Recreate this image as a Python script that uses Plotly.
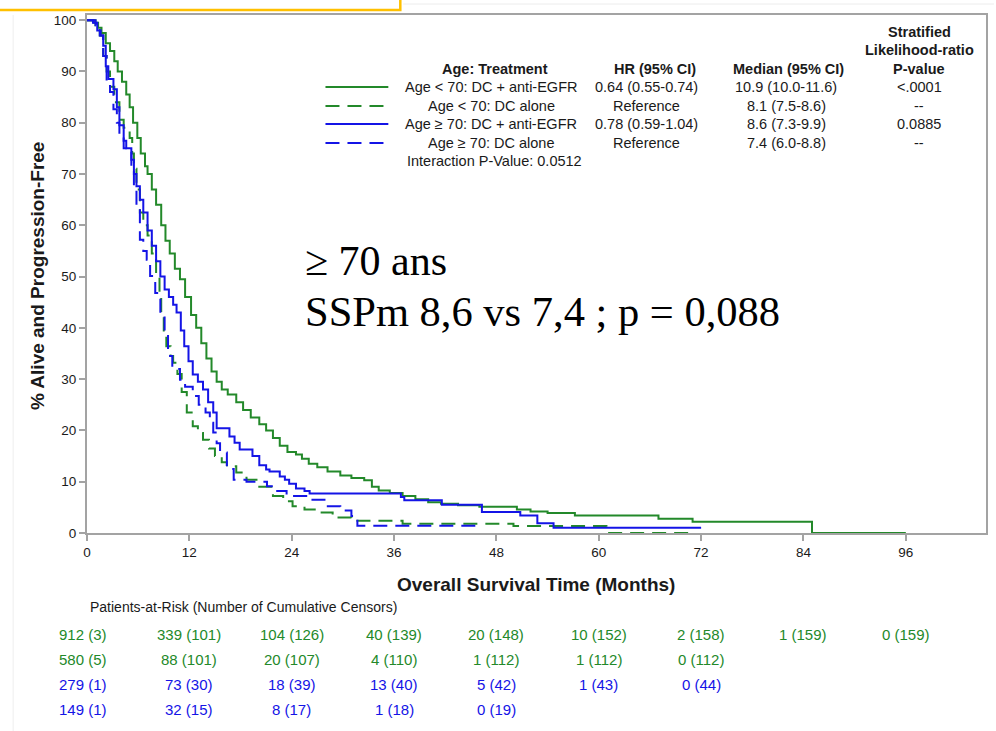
import plotly.graph_objects as go

# Kaplan-Meier step curves (months, % alive and progression-free)
months_lt70_egfr = [0, 0.8, 1.3, 1.7, 2.2, 2.7, 3.2, 3.6, 4.1, 4.6, 5.0, 5.4, 5.9, 6.3, 6.8, 7.1,
                    7.6, 8.1, 8.7, 9.2, 9.7, 10.3, 10.9, 11.5, 12.2, 12.8, 13.4, 14.0, 14.6, 15.2,
                    15.8, 16.5, 17.5, 18.3, 19.2, 20.2, 21.0, 21.8, 22.6, 23.5, 24.5, 25.2, 26.0,
                    27.0, 28.2, 29.7, 31.0, 32.5, 33.4, 34.2, 35.5, 37.0, 38.5, 40.0, 41.5, 43.5,
                    46.0, 50.4, 52.0, 54.0, 57.2, 67.0, 71.0, 85.0, 96.0]
surv_lt70_egfr = [100, 99.5, 98.5, 97.5, 95.5, 94, 92, 90, 88, 85.5, 83, 80, 77, 74, 71.5, 70,
                  67, 64, 60, 57, 54.5, 51.5, 49.5, 46, 42.5, 40, 37, 34, 31.5, 29.5,
                  28, 27, 25.5, 24, 22.5, 21.2, 20, 18.5, 17, 15.8, 15.3, 14.5, 13.5,
                  12.8, 12, 11.2, 10.7, 10.3, 9.0, 8.3, 7.8, 7.2, 6.6, 6.0, 5.7, 5.4,
                  5.1, 4.6, 4.2, 3.9, 3.4, 2.8, 2.2, 0, 0]

months_lt70_dc = [0, 1.0, 1.5, 1.9, 2.3, 2.7, 3.2, 3.8, 4.3, 5.0, 5.3, 5.5, 5.8, 6.2, 6.6, 7.1,
                  7.6, 8.1, 8.5, 8.7, 9.0, 9.3, 9.8, 10.1, 10.6, 11.1, 11.7, 12.4, 13.0, 13.6,
                  14.3, 15.0, 15.8, 16.4, 17.5, 18.7, 20.0, 21.8, 23.0, 24.1, 25.5, 27.3, 28.8,
                  31.0, 37.0, 50.0, 60.9, 71.0]
surv_lt70_dc = [100, 99, 97, 93, 90, 87, 84, 80.6, 79, 77, 74, 71, 67, 62.5, 60, 58,
                54.5, 50.5, 47, 43, 39.5, 36.4, 34.5, 33.2, 31, 27.5, 23.5, 20.8, 19.5, 18.2,
                16.5, 15, 13.8, 13, 11.8, 10.4, 9.0, 7.2, 6.2, 5.2, 4.6, 4.0, 3.0,
                2.4, 1.8, 1.35, 0, 0]

months_ge70_egfr = [0, 0.7, 1.2, 1.6, 1.9, 2.2, 2.5, 3.1, 3.5, 3.8, 4.3, 4.6, 5.2, 5.5, 5.8, 6.2,
                    6.6, 7.1, 7.6, 8.1, 8.6, 9.1, 9.6, 10.1, 10.5, 11.0, 11.4, 11.9, 12.4, 13.0,
                    13.6, 14.2, 14.8, 15.2, 16.7, 17.3, 17.9, 19.4, 20.2, 21.0, 21.4, 22.6, 23.2,
                    23.7, 24.5, 25.5, 26.1, 36.8, 37.2, 41.6, 46.3, 50.8, 52.8, 54.7, 72.0]
surv_ge70_egfr = [100, 99.5, 98, 97, 95, 91, 88.5, 86.5, 83, 79.5, 76.5, 75, 72.8, 70, 67.6, 65,
                  62.5, 59, 56, 53, 50, 47.5, 46, 44.5, 43, 39.5, 36.4, 33.5, 30.9, 29.5,
                  28, 25.5, 23.5, 20.4, 18.8, 17.6, 16.3, 15, 13.2, 12.4, 12, 11, 10.4,
                  9.6, 8.7, 8.2, 7.7, 7.0, 6.4, 5.5, 4.1, 3.4, 1.9, 1.0, 1.0]

months_ge70_dc = [0, 1.0, 1.5, 1.9, 2.3, 2.7, 3.1, 3.5, 3.8, 4.3, 5.2, 5.5, 5.8, 6.2, 6.6, 7.0,
                  7.4, 8.0, 8.6, 9.1, 9.5, 10.0, 10.9, 11.5, 12.4, 13.1, 13.9, 14.4, 14.8, 15.2,
                  15.6, 16.4, 17.2, 18.7, 21.1, 22.3, 23.4, 25.7, 28.0, 29.7, 31.0, 31.7, 46.0]
surv_ge70_dc = [100, 99, 97, 93, 87.8, 86, 82.6, 80, 77.3, 75, 71.5, 67, 63.7, 57.2, 55, 53.3,
                50.1, 46.8, 42, 38.4, 34.5, 32, 29.9, 28.5, 26.7, 25, 23.5, 21.5, 19.6, 17.5,
                15.7, 12.5, 10.4, 10.0, 9.1, 8.2, 7.2, 6.5, 5.2, 4.4, 3.3, 1.4, 1.35]

x_ticks = [0, 12, 24, 36, 48, 60, 72, 84, 96]
y_ticks = [0, 10, 20, 30, 40, 50, 60, 70, 80, 90, 100]

# Patients at risk (cumulative censors) at each x tick
risk_lt70_egfr = ["912 (3)", "339 (101)", "104 (126)", "40 (139)", "20 (148)", "10 (152)", "2 (158)", "1 (159)", "0 (159)"]
risk_lt70_dc = ["580 (5)", "88 (101)", "20 (107)", "4 (110)", "1 (112)", "1 (112)", "0 (112)"]
risk_ge70_egfr = ["279 (1)", "73 (30)", "18 (39)", "13 (40)", "5 (42)", "1 (43)", "0 (44)"]
risk_ge70_dc = ["149 (1)", "32 (15)", "8 (17)", "1 (18)", "0 (19)"]

# Legend table columns
legend_groups = ["Age < 70: DC + anti-EGFR", "Age < 70: DC alone",
                 "Age ≥ 70: DC + anti-EGFR", "Age ≥ 70: DC alone"]
legend_hr = ["0.64 (0.55-0.74)", "Reference", "0.78 (0.59-1.04)", "Reference"]
legend_median = ["10.9 (10.0-11.6)", "8.1 (7.5-8.6)", "8.6 (7.3-9.9)", "7.4 (6.0-8.8)"]
legend_p = ["<.0001", "--", "0.0885", "--"]

GREEN = "#23892a"
BLUE = "#1414e6"
AXIS = "#a3a3a3"
TEXT = "#1a1a1a"
SANS = "Liberation Sans, Arial, sans-serif"
SERIF = "Liberation Serif, Times New Roman, serif"

W, H = 996, 731
L, R, T, B = 87, 8, 15, 198
PW, PH = W - L - R, H - T - B


def px(xp):
    return (xp - L) / PW


def py(yp):
    return (H - B - yp) / PH


series = [
    (months_lt70_egfr, surv_lt70_egfr, GREEN, "solid"),
    (months_lt70_dc, surv_lt70_dc, GREEN, "14px,8px"),
    (months_ge70_egfr, surv_ge70_egfr, BLUE, "solid"),
    (months_ge70_dc, surv_ge70_dc, BLUE, "14px,8px"),
]

fig = go.Figure()
for (mx, sy, col, dash), name in zip(series, legend_groups):
    fig.add_trace(go.Scatter(x=mx, y=sy, mode="lines", line_shape="hv", name=name,
                             line=dict(color=col, width=2, dash=dash), showlegend=False))

annotations = []
shapes = []

# Legend table: line samples + text columns
LEG_FS = 14.5
row_y = [87, 106, 124, 143]
for (mx, sy, col, dash), yy, g, hr, md, pv in zip(series, row_y, legend_groups, legend_hr, legend_median, legend_p):
    shapes.append(dict(type="line", xref="paper", yref="paper", x0=px(326), x1=px(389),
                       y0=py(yy), y1=py(yy), line=dict(color=col, width=2, dash=dash)))
    for txt, xc in ((g, 492), (hr, 648), (md, 788), (pv, 921)):
        annotations.append(dict(text=txt, xref="paper", yref="paper", x=px(xc), y=py(yy),
                                xanchor="center", yanchor="middle", showarrow=False,
                                font=dict(family=SANS, size=LEG_FS, color=TEXT)))

for txt, xc, yy in (("Age: Treatment", 496, 69), ("HR (95% CI)", 656, 69),
                    ("Median (95% CI)", 790, 69), ("Stratified", 921, 32),
                    ("Likelihood-ratio", 921, 50), ("P-value", 921, 69)):
    annotations.append(dict(text="<b>" + txt + "</b>", xref="paper", yref="paper", x=px(xc), y=py(yy),
                            xanchor="center", yanchor="middle", showarrow=False,
                            font=dict(family=SANS, size=LEG_FS, color=TEXT)))
annotations.append(dict(text="Interaction P-Value: 0.0512", xref="paper", yref="paper",
                        x=px(406), y=py(161), xanchor="left", yanchor="middle", showarrow=False,
                        font=dict(family=SANS, size=LEG_FS, color=TEXT)))

# Slide text over the plot
annotations.append(dict(text="≥ 70 ans", xref="paper", yref="paper", x=px(303), y=py(261),
                        xanchor="left", yanchor="middle", showarrow=False,
                        font=dict(family=SERIF, size=42, color="#000000")))
annotations.append(dict(text="SSPm 8,6 vs 7,4 ; p = 0,088", xref="paper", yref="paper",
                        x=px(303), y=py(311), xanchor="left", yanchor="middle", showarrow=False,
                        font=dict(family=SERIF, size=42.5, color="#000000")))

# Axis titles
annotations.append(dict(text="<b>% Alive and Progression-Free</b>", xref="paper", yref="paper",
                        x=px(37), y=py(276), textangle=-90, xanchor="center", yanchor="middle",
                        showarrow=False, font=dict(family=SANS, size=19, color=TEXT)))
annotations.append(dict(text="<b>Overall Survival Time (Months)</b>", xref="paper", yref="paper",
                        x=px(537), y=py(584), xanchor="center", yanchor="middle",
                        showarrow=False, font=dict(family=SANS, size=19, color=TEXT)))

# Patients-at-risk table
annotations.append(dict(text="Patients-at-Risk (Number of Cumulative Censors)", xref="paper",
                        yref="paper", x=px(88), y=py(607), xanchor="left", yanchor="middle",
                        showarrow=False, font=dict(family=SANS, size=14, color=TEXT)))
for row, col, yy in ((risk_lt70_egfr, GREEN, 634), (risk_lt70_dc, GREEN, 659),
                     (risk_ge70_egfr, BLUE, 684), (risk_ge70_dc, BLUE, 709)):
    for xm, txt in zip(x_ticks, row):
        annotations.append(dict(text=txt, xref="x", yref="paper", x=xm, y=py(yy),
                                xshift=-4 if xm == 0 else 0,
                                xanchor="center", yanchor="middle", showarrow=False,
                                font=dict(family=SANS, size=15, color=col)))

# Slide decorations: orange frame corner and faint page edges
shapes.append(dict(type="path", xref="paper", yref="paper",
                   path=f"M {px(-2)} {py(10)} L {px(401)} {py(10)} L {px(401)} {py(-3)}",
                   line=dict(color="#ffc000", width=2.5)))
shapes.append(dict(type="line", xref="paper", yref="paper", x0=px(404), x1=px(996),
                   y0=py(4), y1=py(4), line=dict(color="#ececec", width=1)))
shapes.append(dict(type="line", xref="paper", yref="paper", x0=px(13), x1=px(13),
                   y0=py(15), y1=py(731), line=dict(color="#eeeeee", width=1)))

fig.update_layout(
    width=W, height=H,
    margin=dict(l=L, r=R, t=T, b=B),
    paper_bgcolor="white", plot_bgcolor="white",
    annotations=annotations, shapes=shapes,
    xaxis=dict(range=[0, 105.4], tickvals=x_ticks, ticks="outside", ticklen=6, tickwidth=1.5,
               tickcolor=AXIS, showline=True, linecolor=AXIS, linewidth=2, mirror=True,
               showgrid=False, zeroline=False,
               tickfont=dict(family=SANS, size=13.5, color=TEXT)),
    yaxis=dict(range=[0, 101], tickvals=y_ticks, ticks="outside", ticklen=6, tickwidth=1.5,
               tickcolor=AXIS, showline=True, linecolor=AXIS, linewidth=2, mirror=True,
               showgrid=False, zeroline=False,
               tickfont=dict(family=SANS, size=13.5, color=TEXT)),
)

fig.write_html("out.html")
